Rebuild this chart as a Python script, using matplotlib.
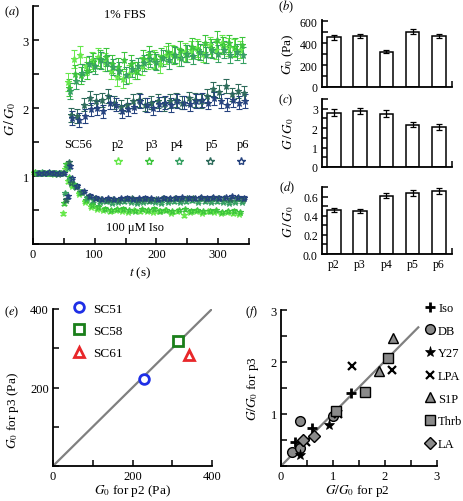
import numpy as np
import matplotlib
matplotlib.use("Agg")
import matplotlib.pyplot as plt
from matplotlib.lines import Line2D
from matplotlib.ticker import MultipleLocator, FixedLocator

plt.rcParams['font.family'] = ['Liberation Serif', 'DejaVu Serif']
plt.rcParams['mathtext.fontset'] = 'stix'
plt.rcParams['font.size'] = 9

# ---------------- data ----------------
passages = ['p2', 'p3', 'p4', 'p5', 'p6']
series_colors = ['#66e84a', '#3cc43c', '#36a062', '#2d6a5a', '#25427e']
sample_lag = [0, 2, 4, 6, 8]

# 1% FBS response (G/G0)
t_fbs = [56, 66, 76, 86, 96, 106, 116, 126, 136, 146, 156, 166, 176, 186, 196,
         206, 216, 226, 236, 246, 256, 266, 276, 286, 296, 306, 316, 326, 336]
fbs_p2 = [2.38, 2.72, 2.78, 2.62, 2.70, 2.75, 2.68, 2.55, 2.45, 2.42, 2.50, 2.55, 2.62, 2.70, 2.72,
          2.65, 2.78, 2.80, 2.75, 2.82, 2.85, 2.88, 2.80, 2.92, 2.85, 2.95, 2.90, 2.88, 2.86]
fbs_p3 = [2.30, 2.50, 2.48, 2.55, 2.68, 2.72, 2.75, 2.65, 2.60, 2.70, 2.65, 2.55, 2.72, 2.78, 2.70,
          2.75, 2.82, 2.78, 2.85, 2.80, 2.90, 2.85, 2.95, 2.88, 3.00, 2.92, 2.95, 2.90, 2.92]
fbs_p4 = [2.25, 2.40, 2.52, 2.65, 2.62, 2.70, 2.66, 2.60, 2.55, 2.48, 2.58, 2.62, 2.66, 2.72, 2.68,
          2.74, 2.70, 2.78, 2.74, 2.80, 2.76, 2.82, 2.78, 2.85, 2.80, 2.86, 2.78, 2.82, 2.78]
fbs_p5 = [1.90, 1.88, 2.05, 2.15, 2.10, 2.12, 2.18, 2.08, 2.02, 2.05, 2.10, 2.12, 2.05, 2.08, 2.10,
          2.06, 2.10, 2.12, 2.08, 2.14, 2.12, 2.10, 2.18, 2.28, 2.24, 2.32, 2.20, 2.25, 2.22]
fbs_p6 = [1.85, 1.82, 1.88, 1.98, 2.00, 1.95, 2.08, 2.05, 1.95, 1.98, 2.02, 2.10, 2.04, 2.00, 2.06,
          2.08, 2.04, 2.10, 2.08, 2.06, 2.10, 2.12, 2.08, 2.14, 2.10, 2.05, 2.12, 2.08, 2.10]
fbs_err = [0.13, 0.13, 0.12, 0.10, 0.10]

# 100 uM Iso response (G/G0)
t_iso = [2, 10, 18, 26, 34, 42, 48, 52, 56, 64, 74, 84, 94,
         104, 114, 124, 134, 144, 154, 164, 174, 184, 194, 204, 214,
         224, 234, 244, 254, 264, 274, 284, 294, 304, 314, 324, 334]
iso_p2 = [1.05, 1.04, 1.05, 1.04, 1.03, 1.04, 0.45, 1.10, 0.92, 0.86, 0.74, 0.62, 0.55,
          0.52, 0.50, 0.48, 0.50, 0.49, 0.47, 0.50, 0.48, 0.49, 0.47, 0.48, 0.50,
          0.46, 0.48, 0.42, 0.47, 0.49, 0.46, 0.48, 0.47, 0.46, 0.47, 0.45, 0.44]
iso_p3 = [1.06, 1.05, 1.04, 1.05, 1.04, 1.05, 0.60, 1.17, 0.98, 0.88, 0.76, 0.64, 0.58,
          0.55, 0.52, 0.50, 0.51, 0.52, 0.50, 0.49, 0.51, 0.50, 0.52, 0.49, 0.50,
          0.48, 0.50, 0.51, 0.49, 0.50, 0.48, 0.49, 0.50, 0.47, 0.48, 0.49, 0.47]
iso_p4 = [1.05, 1.06, 1.04, 1.05, 1.05, 1.04, 0.75, 1.12, 0.95, 0.85, 0.76, 0.68, 0.64,
          0.62, 0.63, 0.61, 0.62, 0.63, 0.62, 0.61, 0.62, 0.63, 0.62, 0.61, 0.62,
          0.63, 0.62, 0.63, 0.64, 0.62, 0.63, 0.62, 0.63, 0.62, 0.61, 0.62, 0.62]
iso_p5 = [1.04, 1.05, 1.05, 1.04, 1.03, 1.05, 0.65, 1.20, 0.90, 0.84, 0.77, 0.70, 0.67,
          0.66, 0.65, 0.66, 0.65, 0.66, 0.67, 0.65, 0.66, 0.65, 0.66, 0.67, 0.66,
          0.67, 0.66, 0.67, 0.68, 0.67, 0.66, 0.67, 0.68, 0.67, 0.66, 0.67, 0.66]
iso_p6 = [1.05, 1.04, 1.06, 1.05, 1.04, 1.05, 0.70, 1.14, 0.97, 0.86, 0.78, 0.71, 0.68,
          0.66, 0.67, 0.66, 0.67, 0.68, 0.66, 0.67, 0.68, 0.67, 0.66, 0.68, 0.67,
          0.68, 0.69, 0.68, 0.67, 0.69, 0.68, 0.69, 0.68, 0.69, 0.70, 0.69, 0.68]
iso_err = [0.02, 0.02, 0.02, 0.02, 0.02]

# bar panels
g0_mean = [452, 465, 322, 505, 465]
g0_err = [20, 20, 15, 22, 18]
fbs_mean = [2.80, 2.88, 2.75, 2.18, 2.05]
fbs_sem = [0.20, 0.17, 0.17, 0.12, 0.14]
iso_mean = [0.46, 0.45, 0.61, 0.64, 0.66]
iso_sem = [0.02, 0.02, 0.03, 0.03, 0.03]

# panel (e)
cell_lines = ['SC51', 'SC58', 'SC61']
g0_p2 = [228, 315, 342]
g0_p3 = [222, 318, 282]
e_colors = ['#1f2fe6', '#1a7f1a', '#e8272a']
e_markers = ['o', 's', '^']

# panel (f)
treatments = ['Iso', 'DB', 'Y27', 'LPA', 'S1P', 'Thrb', 'LA']
f_p2 = {'Iso': [0.27, 0.60, 1.34], 'DB': [0.22, 0.36, 0.37, 1.00], 'Y27': [0.37, 0.92],
        'LPA': [0.48, 1.09, 1.36, 2.13], 'S1P': [1.89, 2.16], 'Thrb': [1.06, 1.62, 2.06],
        'LA': [0.42, 0.64]}
f_p3 = {'Iso': [0.47, 0.73, 1.40], 'DB': [0.26, 0.34, 0.86, 0.96], 'Y27': [0.21, 0.78],
        'LPA': [0.47, 1.00, 1.93, 1.85], 'S1P': [1.83, 2.46], 'Thrb': [1.06, 1.43, 2.07],
        'LA': [0.50, 0.57]}
fit_slope = 1.01
fit_xmax = 2.64

# ---------------- figure ----------------
W, H = 464, 502
fig = plt.figure(figsize=(W / 100, H / 100), dpi=100)


def px_axes(x0, x1, ytop, ybot):
    return fig.add_axes([x0 / W, 1 - ybot / H, (x1 - x0) / W, (ybot - ytop) / H])


def style(ax, fs=9):
    for s in ('top', 'right'):
        ax.spines[s].set_visible(False)
    for s in ('left', 'bottom'):
        ax.spines[s].set_linewidth(1.3)
    ax.tick_params(which='both', direction='in', length=4, width=1.1, labelsize=fs, pad=3)


# ---- (a) ----
axa = px_axes(33, 249, 7, 245)
style(axa)
fbs_all = [fbs_p2, fbs_p3, fbs_p4, fbs_p5, fbs_p6]
iso_all = [iso_p2, iso_p3, iso_p4, iso_p5, iso_p6]
for i in range(5):
    c = series_colors[i]
    for tt, vv, ee in ((t_fbs, fbs_all[i], fbs_err[i]), (t_iso, iso_all[i], iso_err[i])):
        axa.errorbar(np.array(tt) + sample_lag[i], vv, yerr=ee, fmt='*', ms=5,
                     mfc='none', mec=c, mew=0.8, ecolor=c, elinewidth=0.7,
                     capsize=2, capthick=0.7, clip_on=False)
axa.set_xlim(0, 350)
axa.set_ylim(0, 3.5)
axa.xaxis.set_major_locator(FixedLocator([0, 100, 200, 300]))
axa.xaxis.set_minor_locator(MultipleLocator(50))
axa.yaxis.set_major_locator(FixedLocator([1, 2, 3]))
axa.yaxis.set_minor_locator(MultipleLocator(0.5))
axa.set_xlabel(r'$t$ (s)', fontsize=9.5)
axa.xaxis.set_label_coords(0.495, -0.085)
axa.set_ylabel(r'$G\,/\,G_0$', fontsize=10)
axa.yaxis.set_label_coords(-0.068, 0.53)
axa.text(0.426, 0.966, '1% FBS', transform=axa.transAxes, ha='center', va='center', fontsize=9)
axa.text(0.472, 0.071, '100 μM Iso', transform=axa.transAxes, ha='center', va='center', fontsize=9)
axa.text(0.208, 0.42, 'SC56', transform=axa.transAxes, ha='center', va='center', fontsize=9)
for xf, lab in zip([0.394, 0.551, 0.667, 0.829, 0.972], passages):
    axa.text(xf, 0.42, lab, transform=axa.transAxes, ha='center', va='center', fontsize=9)
handles = [Line2D([], [], ls='none', marker='*', ms=6, mfc='none', mec=c, mew=1.0)
           for c in series_colors]
axa.legend(handles, [''] * 5, ncol=5, loc='center left', bbox_to_anchor=(0.365, 0.345),
           frameon=False, handlelength=1.0, handletextpad=0.0, columnspacing=1.45,
           borderpad=0, borderaxespad=0, fontsize=9)

# ---- (b), (c), (d) ----
xpos = np.arange(1, 6)


def bar_panel(ytop, ybot, vals, errs, ylim, major, minor, ylabel, show_x):
    ax = px_axes(322, 452, ytop, ybot)
    style(ax, fs=8.5)
    ax.bar(xpos, vals, width=0.52, color='white', edgecolor='black', linewidth=1.1, zorder=2)
    ax.errorbar(xpos, vals, yerr=errs, fmt='none', ecolor='black', elinewidth=0.9,
                capsize=2, capthick=0.9, zorder=3)
    ax.set_xlim(0.55, 5.5)
    ax.set_ylim(*ylim)
    ax.yaxis.set_major_locator(MultipleLocator(major))
    ax.yaxis.set_minor_locator(MultipleLocator(minor))
    ax.xaxis.set_major_locator(FixedLocator(list(xpos)))
    ax.xaxis.set_minor_locator(FixedLocator([5.5]))
    ax.tick_params(axis='x', which='major', length=0)
    if show_x:
        ax.set_xticklabels(passages, fontsize=8.5)
    else:
        ax.set_xticklabels([])
    ax.set_ylabel(ylabel, fontsize=9.5)
    ax.yaxis.set_label_coords(-0.20, 0.5)
    return ax


bar_panel(21, 88, g0_mean, g0_err, (0, 610), 200, 100, r'$G_0$ (Pa)', False)
bar_panel(100, 168, fbs_mean, fbs_sem, (0, 3.5), 1, 0.5, r'$G\,/\,G_0$', False)
bar_panel(188, 255, iso_mean, iso_sem, (0, 0.7), 0.2, 0.1, r'$G\,/\,G_0$', True)

# ---- (e) ----
axe = px_axes(53, 212, 310, 467)
style(axe)
axe.plot([0, 400], [0, 400], color='#808080', lw=1.6, zorder=1)
for name, x, y, c, m in zip(cell_lines, g0_p2, g0_p3, e_colors, e_markers):
    axe.plot([x], [y], ls='none', marker=m, ms=7, mfc='white', mec=c, mew=2.0, label=name, zorder=3)
axe.set_xlim(0, 400)
axe.set_ylim(0, 400)
axe.xaxis.set_major_locator(MultipleLocator(200))
axe.xaxis.set_minor_locator(MultipleLocator(100))
axe.yaxis.set_major_locator(FixedLocator([200, 400]))
axe.yaxis.set_minor_locator(MultipleLocator(100))
axe.set_xlabel(r'$G_0$ for p2 (Pa)', fontsize=9.5)
axe.xaxis.set_label_coords(0.5, -0.105)
axe.set_ylabel(r'$G_0$ for p3 (Pa)', fontsize=9.5)
axe.yaxis.set_label_coords(-0.20, 0.36)
axe.legend(loc='upper left', bbox_to_anchor=(0.12, 1.04), frameon=False, fontsize=9.5,
           handlelength=1.0, handletextpad=0.6, labelspacing=0.75, borderpad=0, borderaxespad=0)

# ---- (f) ----
axf = px_axes(281, 437, 311, 467)
style(axf)
axf.plot([0, fit_xmax], [0, fit_slope * fit_xmax], color='#808080', lw=1.6, zorder=1)
mk = {'Iso': '+', 'DB': 'o', 'Y27': '*', 'LPA': 'x', 'S1P': '^', 'Thrb': 's', 'LA': 'D'}
for tr in treatments:
    m = mk[tr]
    if m in ('+', 'x'):
        kw = dict(marker=m, ms=7 if m == '+' else 5.5, mec='black', mew=2.0 if m == '+' else 1.6)
    elif m == '*':
        kw = dict(marker=m, ms=8, mfc='black', mec='black', mew=0.5)
    else:
        kw = dict(marker=m, ms=7 if m != 'D' else 6, mfc='#8a8a8a', mec='black', mew=1.0)
    axf.plot(f_p2[tr], f_p3[tr], ls='none', label=tr, zorder=3, clip_on=False, **kw)
axf.set_xlim(0, 3)
axf.set_ylim(0, 3)
axf.xaxis.set_major_locator(MultipleLocator(1))
axf.xaxis.set_minor_locator(MultipleLocator(0.5))
axf.yaxis.set_major_locator(FixedLocator([1, 2, 3]))
axf.yaxis.set_minor_locator(MultipleLocator(0.5))
axf.set_xlabel(r'$G/G_0$ for p2', fontsize=9.5)
axf.xaxis.set_label_coords(0.49, -0.105)
axf.set_ylabel(r'$G/G_0$ for p3', fontsize=9.5)
axf.yaxis.set_label_coords(-0.13, 0.5)
axf.legend(loc='upper left', bbox_to_anchor=(0.915, 1.05), frameon=False, fontsize=9,
           handlelength=1.0, handletextpad=0.15, labelspacing=0.85, borderpad=0, borderaxespad=0)

# panel labels
for lab, x, y in [('a', 12, 12), ('b', 286, 7), ('c', 286, 100), ('d', 287, 188),
                  ('e', 12, 312), ('f', 252, 312)]:
    fig.text(x / W, 1 - y / H, '(' + r'$' + lab + r'$' + ')', ha='center', va='center', fontsize=9)

fig.savefig('out.png', dpi=100)
